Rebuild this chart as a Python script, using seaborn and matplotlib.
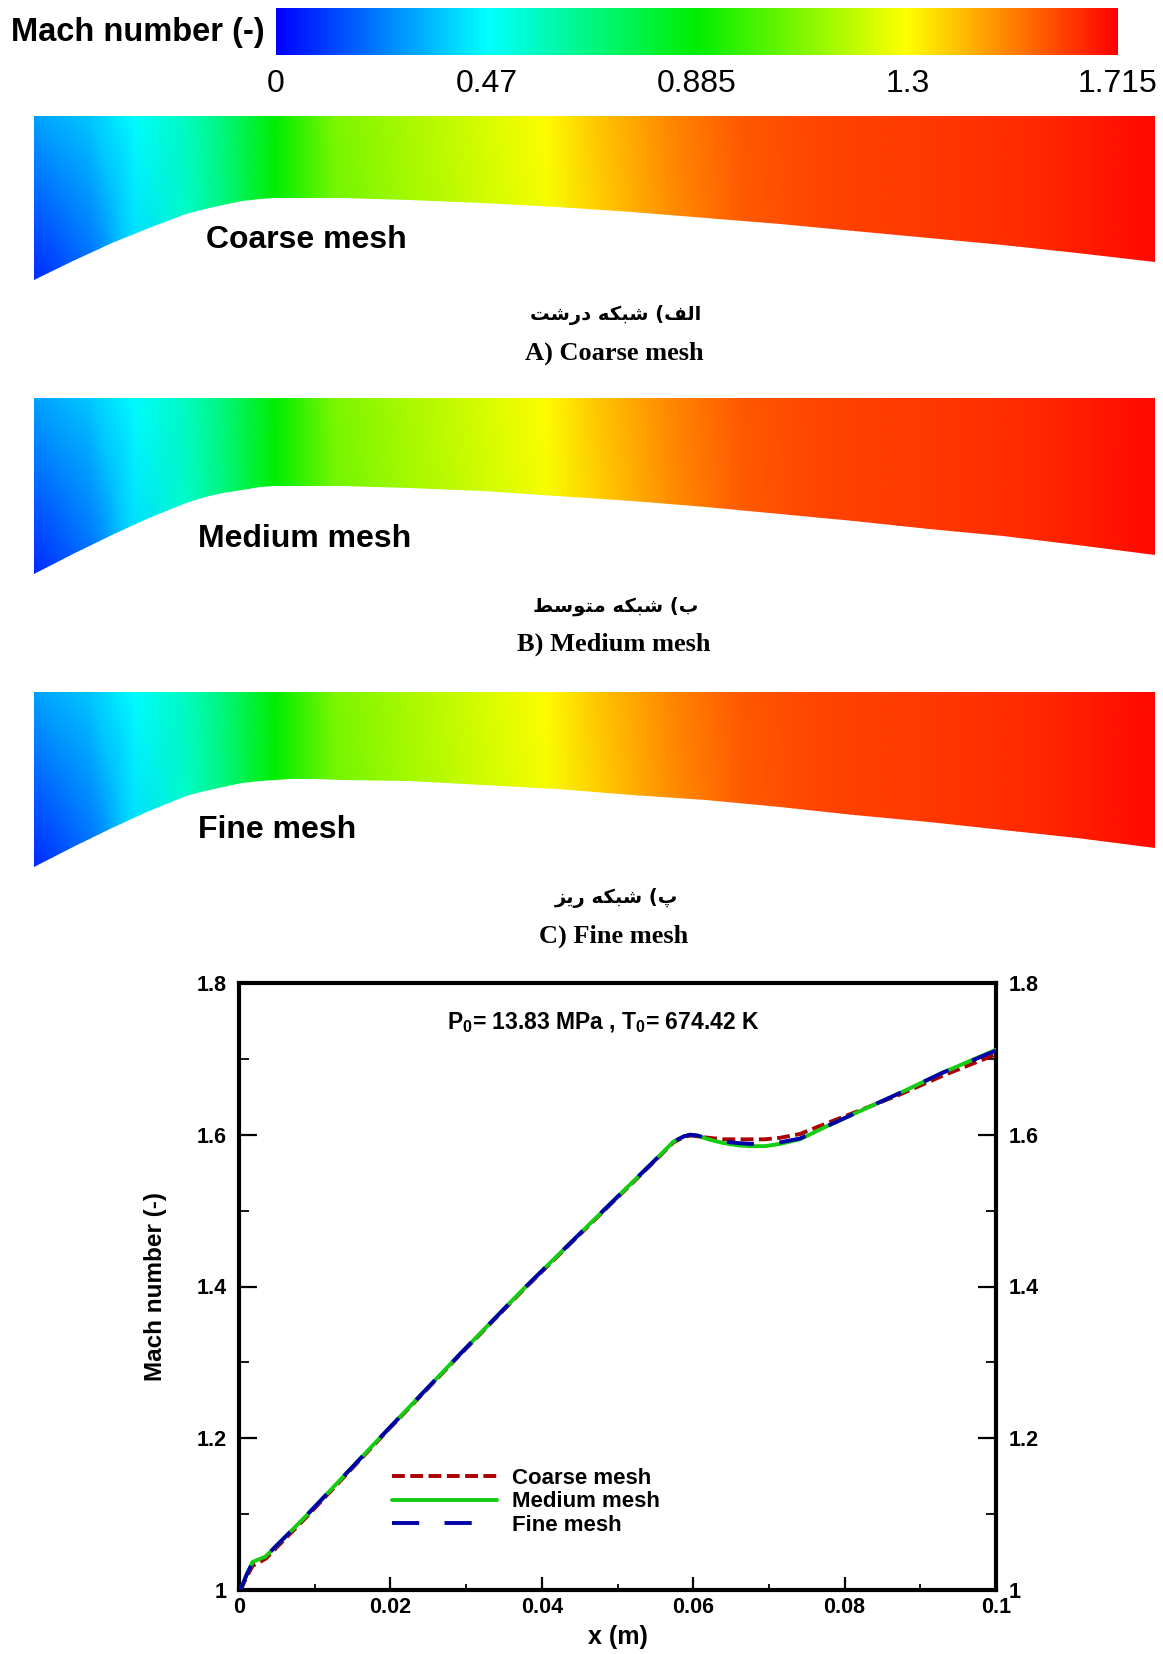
import numpy as np
import matplotlib
matplotlib.use("Agg")
import matplotlib.pyplot as plt
from matplotlib.colors import LinearSegmentedColormap, Normalize
from matplotlib.cm import ScalarMappable
from matplotlib.patches import Polygon
from matplotlib.ticker import MultipleLocator
import seaborn as sns

# colour legend
cbar_ticks = [0.055, 0.47, 0.885, 1.3, 1.715]
cbar_labels = ["0", "0.47", "0.885", "1.3", "1.715"]
cmap_colors = ["#0000ff", "#00ffff", "#00ee00", "#ffff00", "#ff0000"]

# Mach field along the nozzle (fraction of length), on the axis and at the lower edge
station_x = [0.0, 0.05, 0.089, 0.136, 0.169, 0.215, 0.268, 0.334, 0.40, 0.457,
             0.50, 0.566, 0.632, 0.699, 0.798, 0.897, 1.0]
mach_axis = [0.32, 0.38, 0.47, 0.58, 0.69, 0.885, 1.08, 1.16, 1.23, 1.30,
             1.39, 1.49, 1.57, 1.60, 1.62, 1.65, 1.70]
mach_wall = [0.12, 0.22, 0.40, 0.55, 0.68, 0.885, 1.06, 1.14, 1.21, 1.27,
             1.36, 1.47, 1.56, 1.60, 1.62, 1.65, 1.70]

# nozzle wall (fraction of length, depth below the axis as fraction of panel)
wall_x = [0.0, 0.0364, 0.0695, 0.1026, 0.1358, 0.1523, 0.1689, 0.1855, 0.2020,
          0.2150, 0.2285, 0.2500, 0.2748, 0.3344, 0.4007, 0.4669, 0.5331,
          0.5993, 0.6656, 0.7318, 0.7980, 0.8642, 0.9305, 1.0]
wall_depth = [1.0, 0.881, 0.777, 0.682, 0.597, 0.565, 0.540, 0.520, 0.506,
              0.500, 0.498, 0.499, 0.502, 0.511, 0.530, 0.555, 0.587,
              0.619, 0.657, 0.701, 0.744, 0.786, 0.833, 0.890]

panel_labels = ["Coarse mesh", "Medium mesh", "Fine mesh"]
captions_en = ["A) Coarse mesh", "B) Medium mesh", "C) Fine mesh"]
# Persian captions (Arabic presentation forms, visual order)
_shabake = "\uFEEA\uFB91\uFE92\uFEB7"
captions_fa = [
    "\uFE96\uFEB7\uFEAD\uFEA9 " + _shabake + " (\uFED2\uFEDF\uFE8D",
    "\uFEC2\uFEB3\uFEEE\uFE98\uFEE3 " + _shabake + " (\uFE8F",
    "\uFEB0\uFBFE\uFEAD " + _shabake + " (\uFB56",
]

# centreline Mach number
x_pts = [0, 0.0004, 0.0010, 0.0018, 0.0035, 0.0088, 0.0198, 0.0291, 0.0374,
         0.0470, 0.0550, 0.0574, 0.0588, 0.0596, 0.0605, 0.0620, 0.0640,
         0.0660, 0.0675, 0.0695, 0.0715, 0.0741, 0.0776, 0.0820, 0.0873,
         0.0930, 0.1000]
m_coarse = [1.000, 1.004, 1.017, 1.032, 1.041, 1.095, 1.212, 1.309, 1.394,
            1.488, 1.566, 1.590, 1.597, 1.599, 1.598, 1.596, 1.594, 1.594,
            1.594, 1.594, 1.596, 1.601, 1.615, 1.632, 1.653, 1.678, 1.706]
m_medium = [1.000, 1.005, 1.020, 1.037, 1.044, 1.097, 1.213, 1.310, 1.395,
            1.489, 1.567, 1.591, 1.598, 1.600, 1.599, 1.594, 1.589, 1.586,
            1.585, 1.585, 1.588, 1.594, 1.611, 1.631, 1.655, 1.682, 1.712]
m_fine = [1.000, 1.005, 1.020, 1.036, 1.044, 1.097, 1.213, 1.310, 1.395,
          1.489, 1.567, 1.591, 1.598, 1.600, 1.599, 1.595, 1.591, 1.589,
          1.588, 1.588, 1.590, 1.595, 1.611, 1.631, 1.655, 1.682, 1.711]

x_ticks = [0, 0.02, 0.04, 0.06, 0.08, 0.1]
x_tick_labels = ["0", "0.02", "0.04", "0.06", "0.08", "0.1"]
y_ticks = [1.0, 1.2, 1.4, 1.6, 1.8]
y_tick_labels = ["1", "1.2", "1.4", "1.6", "1.8"]

RED = "#AA0000"
GREEN = "#14CC14"
BLUE = "#0000AA"

sns.set_style("ticks")
plt.rcParams.update({
    "font.family": ["Liberation Sans", "DejaVu Sans"],
    "mathtext.fontset": "custom",
    "mathtext.rm": "Liberation Sans",
    "mathtext.bf": "Liberation Sans:bold",
    "text.color": "black",
    "axes.labelcolor": "black",
    "xtick.color": "black",
    "ytick.color": "black",
})

W, H = 1163, 1654
fig = plt.figure(figsize=(W / 100, H / 100), dpi=100)


def box(x0, y0, x1, y1):
    return [x0 / W, 1 - y1 / H, (x1 - x0) / W, (y1 - y0) / H]


cmap = LinearSegmentedColormap.from_list("mach", cmap_colors)
norm = Normalize(vmin=cbar_ticks[0], vmax=cbar_ticks[-1])

# colour bar
cax = fig.add_axes(box(276, 8, 1118, 55))
cb = fig.colorbar(ScalarMappable(norm=norm, cmap=cmap), cax=cax,
                  orientation="horizontal")
cb.outline.set_visible(False)
cb.set_ticks(cbar_ticks, labels=cbar_labels)
cax.tick_params(length=0, pad=10, labelsize=23)
fig.text(11 / W, 1 - 32 / H, "Mach number (-)", fontsize=23.5,
         fontweight="bold", va="center", ha="left")

# contour panels
panel_boxes = [(116, 280), (398, 574), (692, 867)]
label_pos = [(206, 240), (198, 539), (198, 830)]
cap_y = [(315, 353), (606, 644), (898, 936)]
X = np.array([station_x, station_x])
Y = np.array([np.zeros(len(station_x)), np.ones(len(station_x))])
C = np.array([mach_axis, mach_wall])
for (top, bot), (lx, ly), (yfa, yen), lab, cfa, cen in zip(
        panel_boxes, label_pos, cap_y, panel_labels, captions_fa, captions_en):
    ax = fig.add_axes(box(34, top, 1155, bot))
    ax.set_xlim(0, 1)
    ax.set_ylim(1, 0)
    ax.axis("off")
    verts = [(0, 0), (1, 0)] + list(zip(wall_x, wall_depth))[::-1]
    poly = Polygon(verts, closed=True, facecolor="none", edgecolor="none")
    ax.add_patch(poly)
    mesh = ax.pcolormesh(X, Y, C, shading="gouraud", cmap=cmap, norm=norm)
    mesh.set_clip_path(poly)
    fig.text(lx / W, 1 - ly / H, lab, fontsize=23, fontweight="bold",
             va="center", ha="left")
    fig.text(616 / W, 1 - yfa / H, cfa, fontsize=14, fontweight="bold",
             family=["DejaVu Sans"], va="center", ha="center")
    fig.text(614 / W, 1 - yen / H, cen, fontsize=19, fontweight="bold",
             family=["Liberation Serif", "DejaVu Serif"], va="center", ha="center")

# centreline Mach number
ax = fig.add_axes(box(239, 983, 996, 1590))
sns.lineplot(x=x_pts, y=m_coarse, ax=ax, color=RED, lw=2.8,
             linestyle=(0, (3.3, 1.4)), label="Coarse mesh", zorder=3)
sns.lineplot(x=x_pts, y=m_medium, ax=ax, color=GREEN, lw=2.8,
             label="Medium mesh", zorder=4)
sns.lineplot(x=x_pts, y=m_fine, ax=ax, color=BLUE, lw=2.8,
             linestyle=(0, (7, 6.5)), label="Fine mesh", zorder=5)
ax.set_xlim(0, 0.1)
ax.set_ylim(1.0, 1.8)
ax.set_xticks(x_ticks, labels=x_tick_labels)
ax.set_yticks(y_ticks, labels=y_tick_labels)
ax.xaxis.set_minor_locator(MultipleLocator(0.01))
ax.yaxis.set_minor_locator(MultipleLocator(0.1))
for s in ax.spines.values():
    s.set_linewidth(3)
    s.set_color("black")
ax.xaxis.set_tick_params(which="major", direction="in", length=9.5, width=1.6,
                         pad=5, labelsize=15.5, top=False, bottom=True)
ax.xaxis.set_tick_params(which="minor", direction="in", length=4.5, width=1.3,
                         top=False, bottom=True)
ax.yaxis.set_tick_params(which="major", direction="in", length=13, width=1.6,
                         pad=9, labelsize=15.5, left=True, right=True,
                         labelleft=True, labelright=True)
ax.yaxis.set_tick_params(which="minor", direction="in", length=7, width=1.3,
                         left=True, right=True)
for t in ax.get_xticklabels() + ax.get_yticklabels():
    t.set_fontweight("bold")
ax.set_xlabel("x (m)", fontsize=18, fontweight="bold")
ax.set_ylabel("Mach number (-)", fontsize=17.5, fontweight="bold")
ax.xaxis.set_label_coords(0.5, -0.0774)
ax.xaxis.label.set_va("center")
ax.yaxis.set_label_coords(-0.11, 0.5)
ax.yaxis.label.set_va("center")
ax.text(0.481, 0.935, r"P$_\mathbf{0}$= 13.83 MPa , T$_\mathbf{0}$= 674.42 K",
        transform=ax.transAxes, fontsize=16.5, fontweight="bold",
        ha="center", va="center")
ax.legend(loc="upper left", bbox_to_anchor=(0.188, 0.219), frameon=False,
          borderpad=0, handlelength=4.7, handletextpad=0.7, labelspacing=0.1,
          prop={"weight": "bold", "size": 16})

fig.savefig("out.png", dpi=100)
